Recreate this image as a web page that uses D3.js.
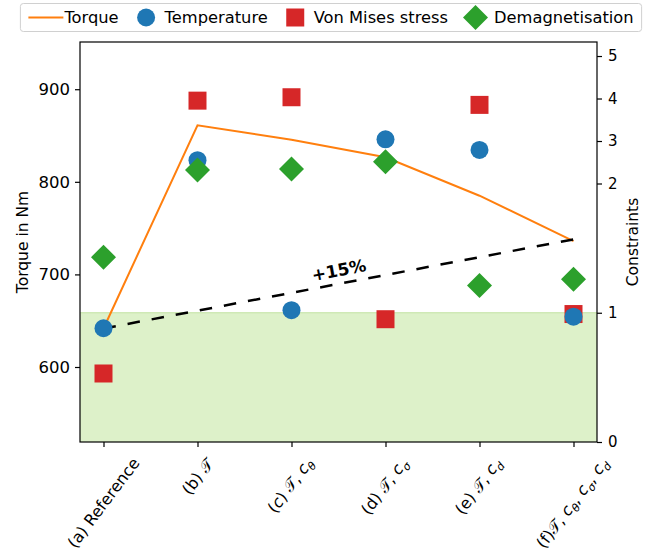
<!DOCTYPE html>
<html>
<head>
<meta charset="utf-8">
<script src="https://cdn.jsdelivr.net/npm/d3@7"></script>
<style>
  body { margin: 0; background: #fff; }
  text { font-family: "DejaVu Sans", sans-serif; }
</style>
</head>
<body>
<div id="chart"></div>
<script>
// Chart values
const caseLabels = ["(a) Reference", "(b) 𝒯", "(c) 𝒯, c_θ", "(d) 𝒯, c_σ", "(e) 𝒯, c_d", "(f)𝒯, c_θ, c_σ, c_d"]
const torque = [641.6, 861, 845.5, 826.5, 785, 736]
const temperature = [0.88, 2.55, 1.02, 3.04, 2.79, 0.97]
const vonMises = [0.53, 3.95, 4.03, 0.95, 3.85, 0.99]
const demag = [1.43, 2.32, 2.34, 2.51, 1.21, 1.26]
const torqueGain = 0.15
const torqueTicks = [600, 700, 800, 900]
const constraintTicks = [0, 1, 2, 3, 4, 5]
const legendNames = ["Torque", "Temperature", "Von Mises stress", "Demagnetisation"]

const width = 665
const height = 557
const margin = { left: 80, right: 597, top: 42, bottom: 442 }

const svg = d3.select('#chart')
  .append('svg')
  .attr('width', width)
  .attr('height', height)

// scales
const x = d3.scalePoint()
  .domain(d3.range(caseLabels.length))
  .range([margin.left, margin.right])
  .padding(0.25)

const yL = d3.scaleLinear()
  .domain([519, 951])
  .range([margin.bottom, margin.top])

// right axis is stretched below 2 and compressed above it
const yR = d3.scaleLinear()
  .domain([0, 2, 5.33])
  .range([margin.bottom, 183.5, margin.top])

// green "feasible" band: constraints between 0 and 1
svg.append('rect')
  .attr('x', margin.left)
  .attr('width', margin.right - margin.left)
  .attr('y', yR(1))
  .attr('height', yR(0) - yR(1))
  .attr('fill', '#ddf1c9')
svg.append('line')
  .attr('x1', margin.left).attr('x2', margin.right)
  .attr('y1', yR(1)).attr('y2', yR(1))
  .attr('stroke', '#cfe9b6')
  .attr('stroke-width', 1.5)

// torque line
svg.append('path')
  .datum(torque)
  .attr('fill', 'none')
  .attr('stroke', '#ff7f0e')
  .attr('stroke-width', 2)
  .attr('d', d3.line().x((d, i) => x(i)).y(d => yL(d)))

// +15% dashed line
const last = caseLabels.length - 1
const p0 = [x(0), yL(torque[0])]
const p1 = [x(last), yL(torque[0] * (1 + torqueGain))]
svg.append('line')
  .attr('x1', p0[0]).attr('y1', p0[1])
  .attr('x2', p1[0]).attr('y2', p1[1])
  .attr('stroke', '#000')
  .attr('stroke-width', 2.5)
  .attr('stroke-dasharray', '12.5,12')

const angle = Math.atan2(p1[1] - p0[1], p1[0] - p0[0]) * 180 / Math.PI
const gx = d3.interpolateNumber(p0[0], p1[0])(0.5)
const gy = d3.interpolateNumber(p0[1], p1[1])(0.5)
svg.append('text')
  .attr('transform', `translate(${gx + 3},${gy}) rotate(${angle}) translate(0,-8)`)
  .attr('text-anchor', 'middle')
  .attr('font-size', 17)
  .attr('font-weight', 'bold')
  .text('+' + Math.round(torqueGain * 100) + '%')

// constraint markers
const sq = d3.symbol(d3.symbolSquare, 324)()
const circ = d3.symbol(d3.symbolCircle, Math.PI * 81)()
const diam = d3.symbol(d3.symbolSquare, 313)()

function markers (values, path, color, rot) {
  svg.append('g')
    .selectAll('path')
    .data(values)
    .enter()
    .append('path')
    .attr('d', path)
    .attr('fill', color)
    .attr('transform', (d, i) => `translate(${x(i)},${yR(d)}) rotate(${rot})`)
}
markers(vonMises, sq, '#d62728', 0)
markers(temperature, circ, '#1f77b4', 0)
markers(demag, diam, '#2ca02c', 45)

// frame
svg.append('rect')
  .attr('x', margin.left).attr('y', margin.top)
  .attr('width', margin.right - margin.left)
  .attr('height', margin.bottom - margin.top)
  .attr('fill', 'none')
  .attr('stroke', '#000')
  .attr('stroke-width', 1.2)

// axes
const leftAxis = svg.append('g')
  .attr('transform', `translate(${margin.left},0)`)
  .call(d3.axisLeft(yL).tickValues(torqueTicks).tickSize(5).tickPadding(5))
leftAxis.selectAll('text').attr('font-size', 16.5).attr('font-family', 'DejaVu Sans')

const rightAxis = svg.append('g')
  .attr('transform', `translate(${margin.right},0)`)
  .call(d3.axisRight(yR).tickValues(constraintTicks).tickFormat(d3.format('d')).tickSize(5).tickPadding(6))
rightAxis.selectAll('text').attr('font-size', 15).attr('font-family', 'DejaVu Sans')

const bottomAxis = svg.append('g')
  .attr('transform', `translate(0,${margin.bottom})`)
  .call(d3.axisBottom(x).tickSize(5).tickFormat(''))

svg.selectAll('.domain').remove()
svg.selectAll('.tick line').attr('stroke', '#000').attr('stroke-width', 1.2)

// rotated x labels, bbox centred under the tick
const rot = -53
const rad = Math.abs(rot) * Math.PI / 180
caseLabels.forEach(function (lab, i) {
  const g = svg.append('g')
  const t = g.append('text')
    .attr('text-anchor', 'middle')
    .attr('font-size', 16)
  lab.split(/(_.)/).forEach(function (part) {
    if (!part) return
    if (part[0] === '_') {
      t.append('tspan').attr('font-size', 11).attr('font-style', 'italic')
        .attr('dy', 4).text(part[1])
      t.append('tspan').attr('dy', -4).text('\u200b')
    } else {
      part.split(/(c)/).forEach(function (p) {
        if (!p) return
        const s = t.append('tspan').text(p)
        if (p === 'c' && lab.indexOf('_') >= 0) s.attr('font-style', 'italic')
      })
    }
  })
  const b = t.node().getBBox()
  const hRot = b.width * Math.sin(rad) + b.height * Math.cos(rad)
  g.attr('transform', `translate(${x(i)},${margin.bottom + 12 + hRot / 2}) rotate(${rot}) translate(0,${-(b.y + b.height / 2)})`)
})

// axis titles
svg.append('text')
  .attr('transform', `translate(28,${(margin.top + margin.bottom) / 2}) rotate(-90)`)
  .attr('text-anchor', 'middle')
  .attr('font-size', 15.5)
  .text('Torque in Nm')

svg.append('text')
  .attr('transform', `translate(638,${(margin.top + margin.bottom) / 2}) rotate(-90)`)
  .attr('text-anchor', 'middle')
  .attr('font-size', 15.5)
  .text('Constraints')

// legend above the plot
const legend = svg.append('g')
const handleW = 35
const gap = 10
let cursor = 0
legendNames.forEach(function (name, i) {
  const item = legend.append('g').attr('transform', `translate(${cursor},0)`)
  const cx = handleW / 2
  if (i === 0) {
    item.append('line').attr('x1', 0).attr('x2', handleW)
      .attr('stroke', '#ff7f0e').attr('stroke-width', 2)
  } else {
    const shape = [circ, sq, diam][i - 1]
    const color = ['#1f77b4', '#d62728', '#2ca02c'][i - 1]
    item.append('path').attr('d', shape).attr('fill', color)
      .attr('transform', `translate(${cx},0) rotate(${i === 3 ? 45 : 0})`)
  }
  const t = item.append('text')
    .attr('x', handleW + 1)
    .attr('dy', '0.35em')
    .attr('font-size', 16.3)
    .text(name)
  cursor += handleW + 1 + t.node().getComputedTextLength() + gap
})
const legW = cursor - gap
const legX = 331 - legW / 2
legend.insert('rect', ':first-child')
  .attr('x', -8).attr('y', -14)
  .attr('width', legW + 16).attr('height', 28)
  .attr('rx', 3)
  .attr('fill', '#fff')
  .attr('stroke', '#d0d0d0')
legend.attr('transform', `translate(${legX},17.5)`)
</script>
</body>
</html>
